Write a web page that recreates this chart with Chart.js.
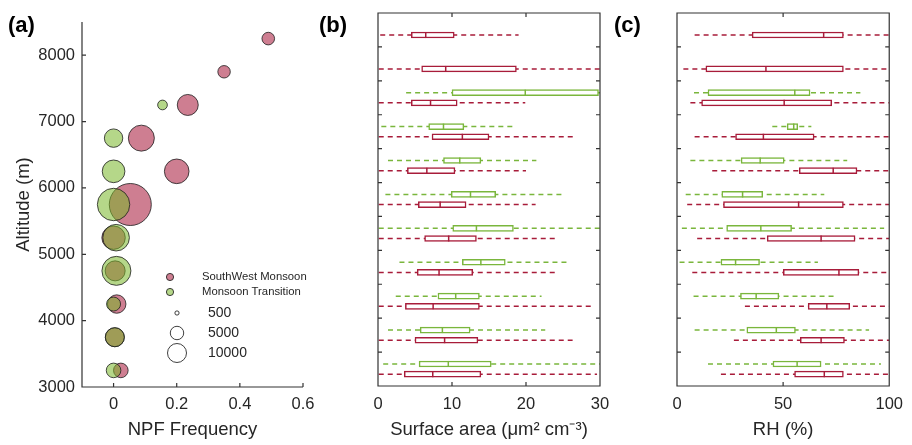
<!DOCTYPE html>
<html>
<head>
<meta charset="utf-8">
<script src="https://cdn.jsdelivr.net/npm/chart.js@4/dist/chart.umd.min.js"></script>
<style>
  body { margin: 0; background: #fff; }
  #wrap { position: relative; width: 912px; height: 445px; overflow: hidden; }
  canvas { position: absolute; top: 0; }
  .tag { position: absolute; top: 14px; font: bold 22px "Liberation Sans", Arial, sans-serif; line-height: 1; color: #000; }
</style>
</head>
<body>
<div id="wrap">
  <canvas id="npfChart" width="330" height="445" style="left:0px"></canvas>
  <canvas id="saChart" width="290" height="445" style="left:330px"></canvas>
  <canvas id="rhChart" width="282" height="445" style="left:630px"></canvas>
  <div class="tag" style="left:8px">(a)</div>
  <div class="tag" style="left:319px">(b)</div>
  <div class="tag" style="left:614px">(c)</div>
</div>
<script>
// altitude bins (m), bottom to top
const altitudes = [3250, 3750, 4250, 4750, 5250, 5750, 6250, 6750, 7250, 7750, 8250];
const altitudesTransition = [3250, 3750, 4250, 4750, 5250, 5750, 6250, 6750, 7250];

// (a) NPF frequency and bubble size (counts)
const npfSouthWest = [0.023, 0.004, 0.01, 0.005, 0.0, 0.053, 0.2, 0.088, 0.235, 0.35, 0.49];
const countSouthWest = [5900, 10000, 9400, 11100, 15200, 48900, 16800, 18700, 12200, 4300, 4400];
const npfTransition = [0.0, 0.004, 0.0, 0.009, 0.008, 0.0, 0.0, 0.0, 0.155];
const countTransition = [5900, 10000, 5400, 23300, 19600, 29100, 14200, 9400, 2600];
const sizeLegendValues = [500, 5000, 10000];

// (b) surface area: [min, q1, median, q3, max]
const saSouthWest = [
    [0.1, 3.55, 7.4, 13.9, 29.6],
    [0.1, 5.0, 9.0, 13.5, 26.3],
    [0.1, 3.7, 7.45, 13.7, 29.0],
    [0.1, 5.3, 8.25, 12.8, 24.2],
    [0.1, 6.3, 9.55, 13.3, 23.9],
    [0.1, 5.45, 8.4, 11.9, 21.3],
    [0.1, 3.97, 6.6, 10.4, 20.0],
    [0.1, 7.3, 11.4, 15.0, 26.5],
    [0.1, 4.5, 7.1, 10.7, 19.9],
    [0.1, 5.9, 9.15, 18.7, 34.0],
    [0.3, 4.5, 6.45, 10.3, 19.0]
];
const saTransition = [
    [0.7, 5.55, 9.5, 15.3, 33.0],
    [1.35, 5.7, 8.7, 12.45, 22.6],
    [2.4, 8.1, 10.5, 13.7, 22.1],
    [2.9, 11.4, 13.9, 17.2, 25.9],
    [0.1, 10.1, 13.3, 18.3, 31.0],
    [1.0, 9.9, 12.5, 15.9, 24.8],
    [1.35, 8.85, 11.05, 13.9, 21.4],
    [0.45, 6.85, 8.85, 11.6, 18.6],
    [3.8, 10.0, 19.9, 29.8, 40.0]
];

// (c) relative humidity: [min, q1, median, q3, max]
const rhSouthWest = [
    [20.7, 55.4, 69.4, 78.4, 100],
    [26.8, 58.1, 67.9, 78.9, 100],
    [32.0, 61.8, 70.6, 81.4, 100],
    [7.2, 50.1, 76.3, 85.7, 100],
    [9.5, 42.5, 67.9, 83.9, 100],
    [4.8, 21.9, 57.3, 78.4, 100],
    [16.6, 57.6, 73.6, 84.8, 100],
    [8.3, 27.6, 40.7, 64.6, 100],
    [6.3, 11.6, 50.5, 72.9, 100],
    [3.0, 13.6, 41.9, 78.4, 100],
    [8.3, 35.4, 69.1, 78.4, 100]
];
const rhTransition = [
    [14.6, 45.2, 56.6, 67.9, 96.1],
    [8.3, 32.9, 46.8, 55.8, 90.5],
    [7.8, 29.9, 37.3, 48.0, 74.7],
    [1.2, 20.7, 27.6, 38.9, 66.4],
    [2.3, 23.4, 39.5, 54.0, 97.6],
    [4.1, 21.1, 30.9, 40.4, 69.4],
    [6.3, 30.2, 39.2, 50.5, 80.2],
    [44.9, 51.9, 55.0, 56.9, 63.3],
    [8.0, 14.6, 55.5, 62.7, 86.4]
];

const altTicksA = [3000, 4000, 5000, 6000, 7000, 8000];
const altTicksBox = [3000, 3500, 4000, 4500, 5000, 5500, 6000, 6500, 7000, 7500, 8000, 8500];
const npfTicks = [0, 0.2, 0.4, 0.6];
const saTicks = [0, 10, 20, 30];
const rhTicks = [0, 50, 100];

const redLine = "rgb(168, 28, 58)";
const greenLine = "rgb(122, 182, 60)";
const redFill = "rgba(165, 20, 55, 0.55)";
const greenFill = "rgba(120, 182, 40, 0.55)";
const axisColor = "#333";
const sizeK = 0.095;      // bubble radius per sqrt(count)
const boxShift = 75;      // red below, green above bin centre

Chart.defaults.font.family = '"Liberation Sans", Arial, sans-serif';
Chart.defaults.color = "#262626";

const setTicks = list => s => { s.ticks = list.map(v => ({ value: v })); };

// frame + inward ticks
const frameTicks = {
    id: "frameTicks",
    afterDraw(chart, args, opts) {
        const { ctx, chartArea: a, scales: { x, y } } = chart;
        const L = 4;
        ctx.save();
        ctx.strokeStyle = axisColor;
        ctx.lineWidth = 1.2;
        ctx.beginPath();
        if (opts.box) {
            ctx.rect(a.left, a.top, a.right - a.left, a.bottom - a.top);
        } else {
            ctx.moveTo(a.left, a.top);
            ctx.lineTo(a.left, a.bottom);
            ctx.lineTo(a.right, a.bottom);
        }
        x.ticks.forEach(t => {
            const px = x.getPixelForValue(t.value);
            ctx.moveTo(px, a.bottom); ctx.lineTo(px, a.bottom - L);
            if (opts.box) { ctx.moveTo(px, a.top); ctx.lineTo(px, a.top + L); }
        });
        y.ticks.forEach(t => {
            const py = y.getPixelForValue(t.value);
            ctx.moveTo(a.left, py); ctx.lineTo(a.left + L, py);
            if (opts.box) { ctx.moveTo(a.right, py); ctx.lineTo(a.right - L, py); }
        });
        ctx.stroke();
        ctx.restore();
    }
};

// legend inside panel (a)
const npfLegend = {
    id: "npfLegend",
    afterDatasetsDraw(chart) {
        const ctx = chart.ctx;
        ctx.save();
        ctx.lineWidth = 1;
        ctx.strokeStyle = "rgba(30,30,30,0.85)";
        ctx.fillStyle = "#262626";
        ctx.textBaseline = "middle";
        const series = [["SouthWest Monsoon", redFill, 277], ["Monsoon Transition", greenFill, 292]];
        series.forEach(([label, fill, py]) => {
            ctx.beginPath();
            ctx.arc(170, py, 3.6, 0, Math.PI * 2);
            ctx.fillStyle = fill; ctx.fill(); ctx.stroke();
            ctx.fillStyle = "#262626";
            ctx.font = '11.3px "Liberation Sans", Arial, sans-serif';
            ctx.fillText(label, 202, py);
        });
        sizeLegendValues.forEach((v, i) => {
            const py = 313 + i * 20;
            ctx.beginPath();
            ctx.arc(177, py, Math.sqrt(v) * sizeK, 0, Math.PI * 2);
            ctx.stroke();
            ctx.font = '14px "Liberation Sans", Arial, sans-serif';
            ctx.fillText(String(v), 208, py);
        });
        ctx.restore();
    }
};

new Chart(document.getElementById("npfChart"), {
    type: "bubble",
    data: {
        datasets: [
            {
                label: "Monsoon Transition",
                data: altitudesTransition.map((a, i) => ({ x: npfTransition[i], y: a, n: countTransition[i] })),
                backgroundColor: greenFill,
                borderColor: "rgba(30,30,30,0.8)",
                borderWidth: 1
            },
            {
                label: "SouthWest Monsoon",
                data: altitudes.map((a, i) => ({ x: npfSouthWest[i], y: a, n: countSouthWest[i] })),
                backgroundColor: redFill,
                borderColor: "rgba(30,30,30,0.8)",
                borderWidth: 1
            }
        ]
    },
    options: {
        responsive: false,
        animation: false,
        events: [],
        layout: { padding: { left: 0, top: 12, right: 27, bottom: 0 } },
        elements: { point: { radius: ctx => ctx.raw ? Math.sqrt(ctx.raw.n) * sizeK : 0 } },
        plugins: { legend: { display: false }, tooltip: { enabled: false }, frameTicks: { box: false } },
        scales: {
            x: {
                type: "linear", min: -0.1, max: 0.6,
                grid: { display: false, drawTicks: false }, border: { display: false },
                afterBuildTicks: setTicks(npfTicks),
                afterFit: s => { s.height = 58; },
                ticks: { padding: 8, font: { size: 16.5 }, callback: v => String(v) },
                title: { display: true, text: "NPF Frequency", font: { size: 18.5 }, padding: { top: 0, bottom: 4 } }
            },
            y: {
                type: "linear", min: 3000, max: 8500,
                grid: { display: false, drawTicks: false }, border: { display: false },
                afterBuildTicks: setTicks(altTicksA),
                afterFit: s => { s.width = 82; },
                ticks: { padding: 7, font: { size: 16.5 }, callback: v => String(v) },
                title: { display: true, text: "Altitude (m)", font: { size: 18.5 }, padding: { top: 13, bottom: 0 } }
            }
        }
    },
    plugins: [frameTicks, npfLegend]
});

function boxDatasets(southWest, transition) {
    const rows = [];
    southWest.forEach((s, i) => rows.push({ s, y: altitudes[i] - boxShift, c: redLine }));
    transition.forEach((s, i) => rows.push({ s, y: altitudesTransition[i] + boxShift, c: greenLine }));
    const whiskers = color => {
        const pts = [];
        rows.filter(r => r.c === color).forEach(r => {
            pts.push({ x: r.s[0], y: r.y }, { x: r.s[4], y: r.y }, { x: null, y: null });
        });
        return {
            type: "line", data: pts, borderColor: color, borderWidth: 1.5,
            borderDash: [5, 4], pointRadius: 0, spanGaps: false, order: 3
        };
    };
    return [
        whiskers(redLine),
        whiskers(greenLine),
        {
            type: "bar",
            data: rows.map(r => ({ x: [r.s[1], r.s[3]], y: r.y })),
            backgroundColor: "#fff",
            borderColor: rows.map(r => r.c),
            borderWidth: 1.5,
            borderSkipped: false,
            barThickness: 6,
            order: 2
        },
        {
            type: "scatter",
            data: rows.map(r => ({ x: r.s[2], y: r.y })),
            pointStyle: "line",
            rotation: 90,
            radius: 3,
            borderColor: rows.map(r => r.c),
            borderWidth: 1.5,
            order: 1
        }
    ];
}

function boxChart(id, southWest, transition, xMin, xMax, xTicks, xTitle, yWidth, padRight) {
    new Chart(document.getElementById(id), {
        type: "bar",
        data: { datasets: boxDatasets(southWest, transition) },
        options: {
            responsive: false,
            animation: false,
            events: [],
            indexAxis: "y",
            layout: { padding: { left: 0, top: 13, right: padRight, bottom: 0 } },
            plugins: { legend: { display: false }, tooltip: { enabled: false }, frameTicks: { box: true } },
            scales: {
                x: {
                    type: "linear", min: xMin, max: xMax,
                    grid: { display: false, drawTicks: false }, border: { display: false },
                    afterBuildTicks: setTicks(xTicks),
                    afterFit: s => { s.height = 59; },
                    ticks: { padding: 9, font: { size: 16.5 }, callback: v => String(v) },
                    title: { display: true, text: xTitle, font: { size: 18.5 }, padding: { top: 0, bottom: 4 } }
                },
                y: {
                    type: "linear", min: 3000, max: 8500, offset: false,
                    grid: { display: false, drawTicks: false, offset: false }, border: { display: false },
                    afterBuildTicks: setTicks(altTicksBox),
                    afterFit: s => { s.width = yWidth; },
                    ticks: { display: false }
                }
            }
        },
        plugins: [frameTicks]
    });
}

boxChart("saChart", saSouthWest, saTransition, 0, 30, saTicks, "Surface area (\u03bcm\u00b2 cm\u207b\u00b3)", 48, 20);
boxChart("rhChart", rhSouthWest, rhTransition, 0, 100, rhTicks, "RH (%)", 47, 14);
</script>
</body>
</html>
